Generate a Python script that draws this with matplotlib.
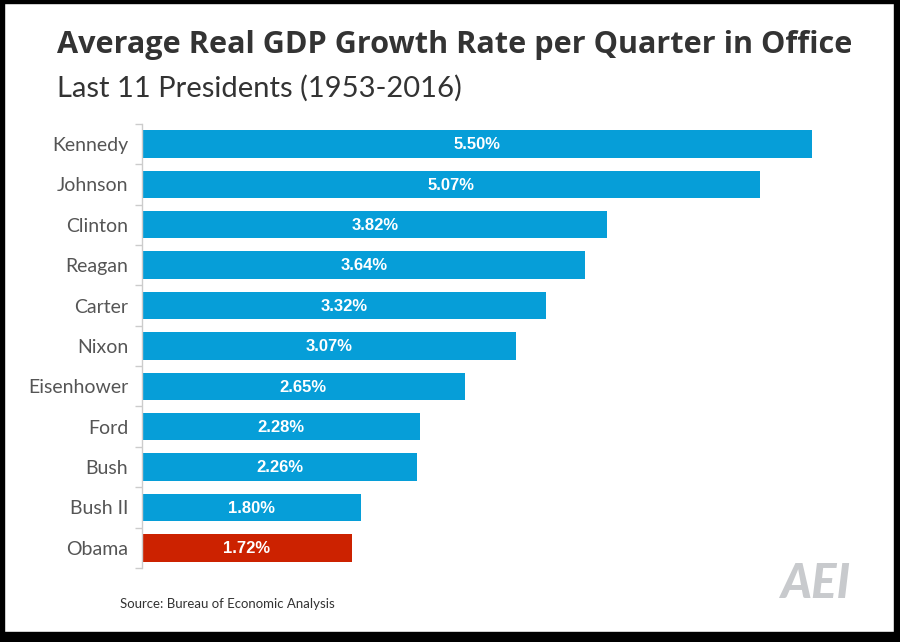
import matplotlib
matplotlib.use("Agg")
import matplotlib.pyplot as plt
from matplotlib.patches import Rectangle
import numpy as np

presidents = ["Kennedy", "Johnson", "Clinton", "Reagan", "Carter", "Nixon",
              "Eisenhower", "Ford", "Bush", "Bush II", "Obama"]
growth = [5.50, 5.07, 3.82, 3.64, 3.32, 3.07, 2.65, 2.28, 2.26, 1.80, 1.72]
highlight = "Obama"

BLUE = "#069ED8"
RED = "#CC2200"
W, H = 900, 642

fig = plt.figure(figsize=(W / 100, H / 100), dpi=100)
fig.patch.set_facecolor("white")

ax_left, ax_right = 142, 873
ax_top, ax_bottom = 123.8, 568
ax = fig.add_axes([ax_left / W, 1 - ax_bottom / H, (ax_right - ax_left) / W, (ax_bottom - ax_top) / H])

y = np.arange(len(presidents))
colors = [RED if p == highlight else BLUE for p in presidents]
bars = ax.barh(y, growth, height=0.68, color=colors, zorder=2)
ax.set_xlim(0, 6.0)
ax.set_ylim(len(presidents) - 0.5, -0.5)

for b, v in zip(bars, growth):
    ax.text(b.get_width() / 2, b.get_y() + b.get_height() / 2 + 0.02, f"{v:.2f}%",
            ha="center", va="center", color="white", fontsize=12,
            fontweight="bold", family="Liberation Sans")

for s in ["top", "right", "bottom"]:
    ax.spines[s].set_visible(False)
ax.spines["left"].set_color("#cccccc")
ax.spines["left"].set_linewidth(1)
ax.set_xticks([])
ax.set_yticks(y)
ax.set_yticklabels(presidents, family="Lato", fontsize=14, color="#555555")
ax.tick_params(axis="y", which="major", length=0, pad=10)
ax.set_yticks(np.arange(-0.5, len(presidents), 1), minor=True)
ax.tick_params(axis="y", which="minor", length=5, color="#cccccc", width=1)

fig.text(57 / W, 1 - 53 / H, "Average Real GDP Growth Rate per Quarter in Office",
         family="Open Sans", fontweight="bold", fontsize=22.1, color="#333333", ha="left", va="baseline")
fig.text(57 / W, 1 - 97 / H, "Last 11 Presidents (1953-2016)",
         family="Lato", fontweight="normal", fontsize=21, color="#333333", ha="left", va="baseline")
fig.text(120 / W, 1 - 608 / H, "Source: Bureau of Economic Analysis",
         family="Lato", fontsize=9.5, color="#333333", ha="left", va="baseline")

fig.text(815 / W, 1 - 598 / H, "AEI", family="Lato", fontweight="black", style="italic",
         fontsize=34, color="#c8cacd", ha="center", va="baseline")

# black frame
for (x0, y0, w, h) in [(0, 0, 4, H), (0, 0, W, 3), (894, 0, 6, H), (0, 632, W, 10)]:
    fig.patches.append(Rectangle((x0 / W, 1 - (y0 + h) / H), w / W, h / H,
                                 transform=fig.transFigure, color="black", zorder=10))

fig.savefig("out.png", dpi=100)
